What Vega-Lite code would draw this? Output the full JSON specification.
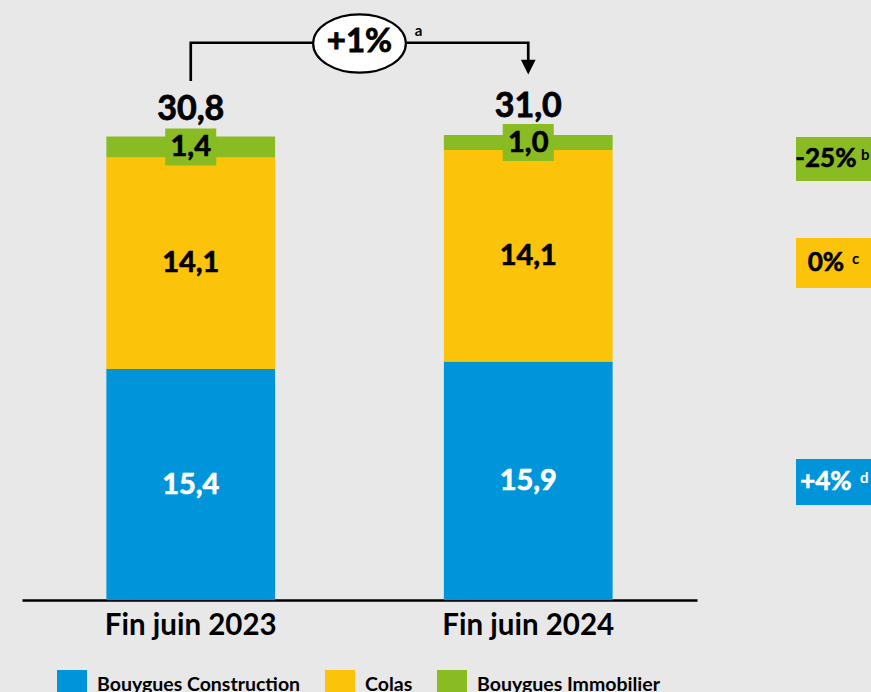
{
  "$schema": "https://vega.github.io/schema/vega-lite/v6.json",
  "width": 871,
  "height": 600,
  "autosize": {"type": "none"},
  "padding": {"left": 0, "top": 0, "right": 0, "bottom": 92},
  "background": "#e8e8e8",
  "config": {
    "view": {"stroke": null},
    "font": "Lato",
    "locale": {"number": {"decimal": ",", "thousands": " ", "grouping": [3], "currency": ["", " €"]}}
  },
  "datasets": {
    "seg": [
      {"periode": "Fin juin 2023", "metier": "Bouygues Construction", "ordre": 1, "valeur": 15.4},
      {"periode": "Fin juin 2023", "metier": "Colas", "ordre": 2, "valeur": 14.1},
      {"periode": "Fin juin 2023", "metier": "Bouygues Immobilier", "ordre": 3, "valeur": 1.4},
      {"periode": "Fin juin 2024", "metier": "Bouygues Construction", "ordre": 1, "valeur": 15.9},
      {"periode": "Fin juin 2024", "metier": "Colas", "ordre": 2, "valeur": 14.1},
      {"periode": "Fin juin 2024", "metier": "Bouygues Immobilier", "ordre": 3, "valeur": 1.0}
    ],
    "totaux": [
      {"periode": "Fin juin 2023", "total": 30.8},
      {"periode": "Fin juin 2024", "total": 31.0}
    ],
    "fleche": [
      {"k": 1, "x": 0, "y": 34.6},
      {"k": 2, "x": 0, "y": 37.15},
      {"k": 3, "x": 1, "y": 37.15},
      {"k": 4, "x": 1, "y": 35.9}
    ],
    "variation": [
      {"metier": "Bouygues Immobilier", "texte": "-25%", "note": "b", "haut": 30.87, "bas": 27.93, "xn": 1.986},
      {"metier": "Colas", "texte": "0%", "note": "c", "haut": 24.13, "bas": 20.8, "xn": 1.959},
      {"metier": "Bouygues Construction", "texte": "+4%", "note": "d", "haut": 9.4, "bas": 6.33, "xn": 1.983}
    ]
  },
  "layer": [
    {
      "encoding": {
        "x": {
          "field": "periode", "type": "nominal", "sort": null,
          "scale": {"domain": ["Fin juin 2023", "Fin juin 2024"], "range": [22, 697], "paddingInner": 0.5, "paddingOuter": 0.25},
          "axis": {
            "title": null, "orient": "bottom", "ticks": false, "labelAngle": 0,
            "domainColor": "black", "domainWidth": 2.5,
            "labelFont": "Lato", "labelFontWeight": "bold", "labelFontSize": 29.5, "labelColor": "black",
            "labelPadding": 11, "labelLimit": 400
          }
        }
      },
      "layer": [
        {
          "data": {"name": "seg"},
          "mark": {"type": "bar"},
          "encoding": {
            "y": {"field": "valeur", "type": "quantitative", "stack": "zero", "scale": {"domain": [0, 40], "nice": false}, "axis": null},
            "order": {"field": "ordre", "type": "quantitative"},
            "color": {
              "field": "metier", "type": "nominal",
              "scale": {"domain": ["Bouygues Construction", "Colas", "Bouygues Immobilier"], "range": ["#0095DA", "#FBC30A", "#89BB23"]},
              "legend": {
                "orient": "none", "legendX": 57, "legendY": 670, "direction": "horizontal", "title": null,
                "symbolType": "square", "symbolSize": 900, "symbolStrokeWidth": 0, "symbolOpacity": 1,
                "labelFont": "Lato", "labelFontWeight": "bold", "labelFontSize": 19.5, "labelColor": "black",
                "labelOffset": 10, "columnPadding": 24, "labelLimit": 300, "padding": 0
              }
            }
          }
        },
        {
          "data": {"name": "seg"},
          "transform": [
            {"stack": "valeur", "groupby": ["periode"], "sort": [{"field": "ordre"}], "as": ["y0", "y1"]},
            {"calculate": "(datum.y0 + datum.y1) / 2", "as": "milieu"},
            {"filter": "datum.metier === 'Bouygues Immobilier'"}
          ],
          "mark": {"type": "point", "shape": "M-1,-0.725H1V0.725H-1Z", "filled": true, "opacity": 1, "size": 2601, "color": "#89BB23", "strokeWidth": 0},
          "encoding": {
            "y": {"field": "milieu", "type": "quantitative", "scale": {"domain": [0, 40], "nice": false}}
          }
        },
        {
          "data": {"name": "seg"},
          "transform": [
            {"stack": "valeur", "groupby": ["periode"], "sort": [{"field": "ordre"}], "as": ["y0", "y1"]},
            {"calculate": "(datum.y0 + datum.y1) / 2", "as": "milieu"}
          ],
          "mark": {"type": "text", "font": "Lato", "fontWeight": "bold", "fontSize": 29, "baseline": "middle", "align": "center", "strokeWidth": 0.7},
          "encoding": {
            "y": {"field": "milieu", "type": "quantitative", "scale": {"domain": [0, 40], "nice": false}},
            "text": {"field": "valeur", "type": "quantitative", "format": ".1f"},
            "color": {"condition": {"test": "datum.metier === 'Bouygues Construction'", "value": "white"}, "value": "black"},
            "stroke": {"condition": {"test": "datum.metier === 'Bouygues Construction'", "value": "white"}, "value": "black"}
          }
        },
        {
          "data": {"name": "totaux"},
          "mark": {"type": "text", "font": "Lato", "fontWeight": "bold", "fontSize": 34, "baseline": "alphabetic", "align": "center", "dy": -18, "color": "black", "stroke": "black", "strokeWidth": 0.8},
          "encoding": {
            "y": {"field": "total", "type": "quantitative", "scale": {"domain": [0, 40], "nice": false}},
            "text": {"field": "total", "type": "quantitative", "format": ".1f"}
          }
        }
      ]
    },
    {
      "layer": [
        {
          "data": {"name": "fleche"},
          "mark": {"type": "line", "color": "black", "strokeWidth": 2.7, "strokeJoin": "miter"},
          "encoding": {
            "x": {"field": "x", "type": "quantitative", "scale": {"domain": [-0.5, 1.5], "range": [22, 697], "nice": false, "zero": false}, "axis": null},
            "y": {"field": "y", "type": "quantitative", "scale": {"domain": [0, 40], "nice": false}},
            "order": {"field": "k", "type": "quantitative"}
          }
        },
        {
          "data": {"values": [{"x": 1, "y": 35.53}]},
          "mark": {"type": "point", "shape": "M-1,-1L1,-1L0,1Z", "filled": true, "opacity": 1, "size": 216, "color": "black", "strokeWidth": 0},
          "encoding": {
            "x": {"field": "x", "type": "quantitative", "scale": {"domain": [-0.5, 1.5], "range": [22, 697], "nice": false, "zero": false}, "axis": null},
            "y": {"field": "y", "type": "quantitative", "scale": {"domain": [0, 40], "nice": false}}
          }
        },
        {
          "data": {"values": [{"x": 0.5, "y": 37.1, "texte": "+1%", "note": "a"}]},
          "layer": [
            {
              "mark": {"type": "point", "shape": "M-1,0C-1,-0.348 -0.552,-0.63 0,-0.63C0.552,-0.63 1,-0.348 1,0C1,0.348 0.552,0.63 0,0.63C-0.552,0.63 -1,0.348 -1,0Z", "filled": false, "fill": "white", "fillOpacity": 1, "opacity": 1, "stroke": "black", "strokeWidth": 2.2, "size": 8593},
              "encoding": {
                "x": {"field": "x", "type": "quantitative", "scale": {"domain": [-0.5, 1.5], "range": [22, 697], "nice": false, "zero": false}, "axis": null},
                "y": {"field": "y", "type": "quantitative", "scale": {"domain": [0, 40], "nice": false}}
              }
            },
            {
              "mark": {"type": "text", "font": "Lato", "fontWeight": "bold", "fontSize": 33, "baseline": "middle", "align": "center", "color": "black", "stroke": "black", "strokeWidth": 0.8, "dy": -2},
              "encoding": {
                "x": {"field": "x", "type": "quantitative", "scale": {"domain": [-0.5, 1.5], "range": [22, 697], "nice": false, "zero": false}, "axis": null},
                "y": {"field": "y", "type": "quantitative", "scale": {"domain": [0, 40], "nice": false}},
                "text": {"field": "texte"}
              }
            },
            {
              "mark": {"type": "text", "font": "Lato", "fontWeight": "bold", "fontSize": 15, "baseline": "middle", "align": "center", "color": "black", "dx": 59, "dy": -13},
              "encoding": {
                "x": {"field": "x", "type": "quantitative", "scale": {"domain": [-0.5, 1.5], "range": [22, 697], "nice": false, "zero": false}, "axis": null},
                "y": {"field": "y", "type": "quantitative", "scale": {"domain": [0, 40], "nice": false}},
                "text": {"field": "note"}
              }
            }
          ]
        },
        {
          "data": {"name": "variation"},
          "transform": [{"calculate": "(datum.haut + datum.bas) / 2", "as": "centre"}],
          "layer": [
            {
              "mark": {"type": "rect"},
              "encoding": {
                "x": {"datum": 1.7933, "type": "quantitative", "scale": {"domain": [-0.5, 1.5], "range": [22, 697], "nice": false, "zero": false}, "axis": null},
                "x2": {"datum": 2.06},
                "y": {"field": "haut", "type": "quantitative", "scale": {"domain": [0, 40], "nice": false}},
                "y2": {"field": "bas"},
                "color": {"field": "metier", "type": "nominal", "legend": null}
              }
            },
            {
              "mark": {"type": "text", "font": "Lato", "fontWeight": "bold", "fontSize": 26, "baseline": "middle", "align": "center", "strokeWidth": 0.6},
              "encoding": {
                "x": {"datum": 1.882, "type": "quantitative", "scale": {"domain": [-0.5, 1.5], "range": [22, 697], "nice": false, "zero": false}, "axis": null},
                "y": {"field": "centre", "type": "quantitative", "scale": {"domain": [0, 40], "nice": false}},
                "text": {"field": "texte"},
                "color": {"condition": {"test": "datum.metier === 'Bouygues Construction'", "value": "white"}, "value": "black"},
                "stroke": {"condition": {"test": "datum.metier === 'Bouygues Construction'", "value": "white"}, "value": "black"}
              }
            },
            {
              "mark": {"type": "text", "font": "Lato", "fontWeight": "bold", "fontSize": 15, "baseline": "alphabetic", "align": "left", "dy": 1},
              "encoding": {
                "x": {"field": "xn", "type": "quantitative", "scale": {"domain": [-0.5, 1.5], "range": [22, 697], "nice": false, "zero": false}, "axis": null},
                "y": {"field": "centre", "type": "quantitative", "scale": {"domain": [0, 40], "nice": false}},
                "text": {"field": "note"},
                "color": {"condition": {"test": "datum.metier === 'Bouygues Construction'", "value": "white"}, "value": "black"}
              }
            }
          ]
        }
      ]
    }
  ],
  "resolve": {"scale": {"x": "independent"}, "axis": {"x": "independent"}}
}
